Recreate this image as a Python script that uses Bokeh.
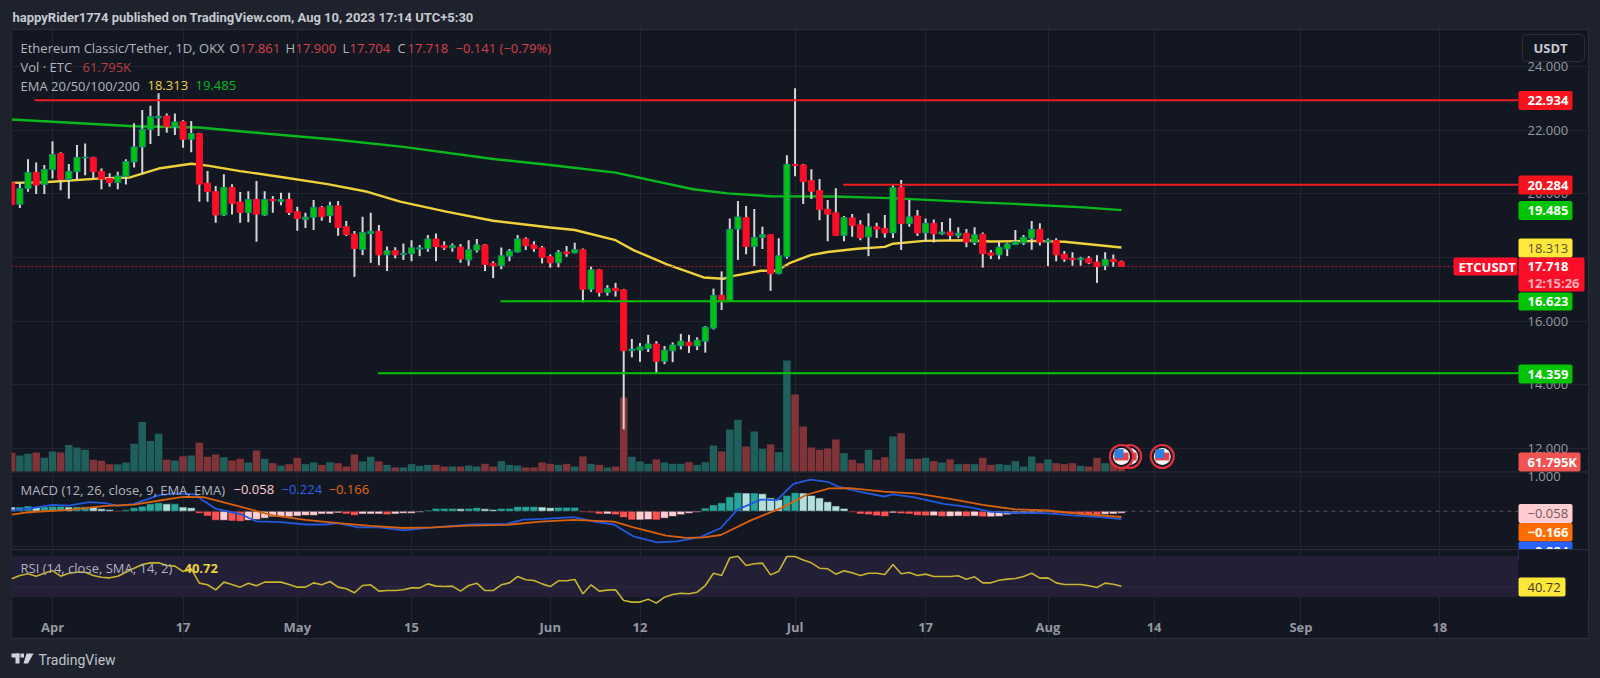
from bokeh.plotting import figure
from bokeh.embed import file_html
from bokeh.resources import INLINE
from bokeh.models import (Range1d, FixedTicker, Label, BoxAnnotation, PolyAnnotation,
                          NumeralTickFormatter)

# ---------- data ----------
days = list(range(-5, 132))
opens = [20.34,19.67,20.16,20.67,20.29,20.76,21.26,20.45,20.69,21.13,
 21.14,20.70,20.48,20.35,20.55,21.00,21.47,22.02,22.38,22.44,
 22.10,22.26,21.71,21.89,20.33,20.06,19.33,20.20,19.74,19.41,
 19.82,19.33,19.82,19.76,19.82,19.43,19.19,19.26,19.57,19.31,
 19.62,18.96,18.73,18.25,18.75,18.82,18.08,18.21,18.09,18.12,
 18.26,18.28,18.58,18.37,18.30,18.32,17.92,18.23,18.39,17.81,
 17.74,18.04,18.17,18.58,18.39,18.30,18.02,17.83,18.17,18.14,
 18.24,17.00,17.61,16.90,17.03,16.98,15.07,15.09,15.14,15.28,
 14.74,15.07,15.23,15.34,15.22,15.37,15.78,16.81,16.64,18.89,
 19.25,18.34,18.63,18.71,17.49,18.03,20.92,20.90,20.41,20.10,
 19.51,19.40,18.69,19.24,19.02,18.64,18.96,18.91,18.77,20.20,
 19.06,19.30,18.77,19.07,18.74,18.80,18.69,18.76,18.47,18.72,
 18.14,18.08,18.27,18.40,18.45,18.61,18.88,18.49,18.53,18.10,
 17.97,17.93,17.97,17.85,17.74,17.94,17.861]
closes = [19.66,20.16,20.67,20.27,20.76,21.23,20.45,20.70,21.14,21.15,
 20.69,20.46,20.35,20.56,21.01,21.47,22.02,22.42,22.43,22.10,
 22.25,21.71,21.89,20.30,20.07,19.33,20.20,19.69,19.41,19.82,
 19.36,19.82,19.78,19.82,19.41,19.22,19.26,19.57,19.28,19.62,
 18.94,18.72,18.28,18.78,18.82,18.08,18.21,18.08,18.13,18.30,
 18.30,18.58,18.34,18.30,18.37,17.95,18.24,18.39,17.78,17.74,
 18.05,18.20,18.58,18.37,18.28,18.00,17.83,18.16,18.12,18.24,
 17.00,17.61,16.90,17.03,16.95,15.07,15.12,15.19,15.28,14.74,
 15.09,15.25,15.37,15.23,15.40,15.81,16.81,16.62,18.88,19.27,
 18.34,18.63,18.71,17.49,18.05,20.92,20.89,20.38,20.08,19.50,
 19.36,18.69,19.25,19.00,18.62,18.96,18.89,18.77,20.19,19.06,
 19.27,18.77,19.07,18.74,18.80,18.69,18.76,18.48,18.71,18.12,
 18.07,18.32,18.42,18.49,18.63,18.88,18.48,18.54,18.08,17.95,
 17.93,17.98,17.83,17.71,17.94,17.87,17.718]
highs = [20.34,20.37,21.08,20.98,20.90,21.65,21.30,20.93,21.53,21.58,
 21.16,20.79,20.64,20.69,21.08,22.21,22.63,22.76,23.15,22.52,
 22.52,22.31,22.28,21.91,20.71,20.24,20.61,20.30,20.05,20.08,
 20.40,20.08,19.93,20.03,20.03,19.59,19.40,19.80,19.61,19.75,
 19.77,19.14,18.83,19.28,19.40,19.02,18.34,18.32,18.44,18.54,
 18.39,18.70,18.75,18.51,18.44,18.42,18.54,18.58,18.42,17.88,
 18.31,18.26,18.70,18.63,18.51,18.36,18.09,18.23,18.36,18.46,
 18.28,17.71,17.64,17.13,17.20,17.01,15.44,15.31,15.57,15.37,
 15.22,15.33,15.60,15.57,15.49,15.84,17.02,17.56,19.22,19.77,
 19.61,19.52,18.96,18.72,18.60,21.21,23.31,20.93,20.77,20.46,
 19.80,20.17,19.30,19.36,19.17,19.39,19.09,19.33,20.27,20.43,
 19.80,19.49,19.22,19.19,19.11,19.23,18.95,18.89,18.95,18.78,
 18.23,18.50,18.46,18.86,18.70,19.14,19.07,18.59,18.60,18.20,
 18.16,18.02,18.04,18.07,18.16,18.09,17.900]
lows = [19.66,19.55,20.06,19.99,19.99,20.48,20.11,19.84,20.43,20.58,
 20.48,20.14,20.22,20.14,20.29,20.82,20.61,21.56,21.81,21.91,
 21.84,21.44,21.30,19.75,19.75,19.09,19.30,19.35,19.09,19.10,
 18.49,19.30,19.40,19.64,19.33,18.84,18.92,18.86,19.15,19.09,
 18.68,18.67,17.39,18.07,17.83,17.75,17.57,17.97,17.92,17.88,
 18.04,18.18,17.88,18.23,18.18,17.83,17.74,18.15,17.57,17.35,
 17.63,17.88,18.15,18.23,18.18,17.81,17.68,17.69,18.02,18.13,
 16.59,16.92,16.77,16.80,16.77,12.60,14.86,14.72,15.03,14.38,
 14.65,14.71,15.11,15.00,15.09,15.01,15.74,16.35,16.63,17.92,
 18.10,17.73,18.26,16.95,17.47,17.96,20.55,19.68,19.83,19.17,
 18.51,18.67,18.51,18.65,18.54,18.04,18.61,18.62,18.61,18.23,
 18.96,18.67,18.49,18.47,18.71,18.52,18.62,18.32,18.39,17.68,
 17.95,17.94,18.04,18.39,18.39,18.24,18.37,17.73,17.88,17.86,
 17.74,17.74,17.79,17.20,17.60,17.71,17.704]
volumes = [124,106,118,126,91,133,126,177,160,144,
 78,71,49,49,60,184,330,202,251,78,
 73,102,106,191,98,113,95,73,84,60,
 140,84,55,40,49,91,49,60,44,62,
 55,33,113,67,98,67,44,27,27,49,
 38,44,44,33,33,33,40,33,51,33,
 69,44,40,27,27,60,51,44,51,33,
 100,51,44,27,33,492,98,67,51,80,
 60,51,51,62,44,62,173,133,279,344,
 166,266,151,180,129,738,512,299,160,144,
 153,213,122,78,55,144,78,95,233,255,
 84,84,91,69,60,80,49,51,49,91,
 44,49,44,69,33,100,55,80,55,49,
 55,38,33,91,55,67,61.795]
macd_hist = [.12,.12,.15,.12,.13,.14,.14,.12,.13,.13,
 .11,.07,.05,-.02,.04,.10,.14,.21,.24,.21,
 .21,.12,.10,-.06,-.14,-.26,-.26,-.28,-.29,-.26,
 -.24,-.20,-.16,-.16,-.16,-.14,-.12,-.12,-.08,-.08,
 -.05,-.08,-.12,-.08,-.08,-.08,-.10,-.08,-.06,-.06,
 -.03,.03,.08,.08,.08,.07,.08,.10,.07,.05,
 .08,.08,.13,.13,.13,.12,.10,.11,.11,.11,
 -.03,-.04,-.08,-.08,-.10,-.18,-.25,-.25,-.24,-.25,
 -.20,-.15,-.10,-.06,-.03,.09,.18,.24,.41,.53,
 .52,.52,.50,.38,.33,.45,.53,.52,.45,.38,
 .27,.15,.08,-.03,-.08,-.10,-.13,-.15,-.05,-.07,
 -.08,-.12,-.13,-.13,-.15,-.15,-.14,-.15,-.14,-.16,
 -.16,-.15,-.10,-.08,-.06,-.05,-.04,-.03,-.05,-.07,
 -.08,-.09,-.10,-.11,-.09,-.08,-.058]
rsi = [47.9,51.2,52.8,50.5,53.4,56.0,50.5,53.4,54.4,54.4,
 51.2,49.5,48.9,50.5,54.4,58.3,61.9,63.5,63.5,60.9,
 60.3,55.1,57.7,43.7,42.1,37.2,44.7,42.4,39.8,43.7,
 41.1,44.7,44.7,44.7,42.4,39.8,39.8,44.0,42.1,45.3,
 39.8,38.2,34.3,41.4,42.1,35.9,36.5,36.5,37.2,39.1,
 39.1,43.0,40.8,40.4,40.8,35.9,41.4,43.7,36.5,36.5,
 42.1,44.0,50.2,47.0,46.3,43.0,40.4,46.0,46.0,47.3,
 33.3,42.1,35.9,36.9,37.2,26.8,25.2,25.2,28.1,24.2,
 30.0,32.6,33.9,33.3,34.9,41.4,53.4,51.2,68.4,70.0,
 60.9,62.6,63.2,51.8,55.4,69.7,69.7,66.4,63.5,58.3,
 57.7,52.5,55.7,53.8,51.2,53.4,53.4,52.1,61.9,52.8,
 54.1,51.2,52.5,50.2,50.2,50.2,50.9,47.6,49.9,44.0,
 44.0,46.6,47.6,48.2,50.2,53.4,48.6,48.9,44.0,42.4,
 42.4,42.4,41.1,39.5,43.7,42.7,40.72]
for arr in (opens, closes, highs, lows, volumes, macd_hist, rsi):
    assert len(arr) == len(days), len(arr)

ema200_d = [-5,10,18,26,34.5,43,54,61,69,78.5,82.7,88,95.7,102.7,114,118,126.4,131]
ema200_v = [22.33,22.12,22.08,21.89,21.70,21.47,21.09,20.90,20.66,20.14,20.01,19.92,19.91,19.86,19.72,19.68,19.57,19.485]
ema50_d = [-5,-1,6,9.5,13,17,19,23,28.4,33.7,38.6,42.6,48.4,54,61,64,69,71.2,75.3,79.8,82.2,83.5,86.8,88.8,90.4,92.9,95,98.6,102,103,106.8,111.7,115,120.3,124,131]
ema50_v = [20.34,20.36,20.48,20.51,20.79,20.94,20.88,20.71,20.51,20.30,20.06,19.75,19.43,19.15,18.94,18.86,18.54,18.23,17.78,17.37,17.33,17.42,17.58,17.58,17.83,18.07,18.17,18.27,18.33,18.43,18.52,18.54,18.50,18.52,18.49,18.313]
macd_d = [-5,-3,0,2,4.5,6.5,8,10,13,15,17.5,18.5,20,23,25,28,31,33.5,35,37.5,40,43,46.7,51.6,55.7,57.7,60.2,63.9,66.7,68.8,71.2,74.1,76.5,79.4,81.9,83.9,86.8,88.8,90.8,92.9,95,96.2,99,101.9,103,105.5,109.2,112.5,115,118,122,125,128.4,131]
macd_v = [.02,.07,.18,.16,.26,.23,.15,.21,.45,.51,.48,.30,.07,-.08,-.29,-.31,-.38,-.38,-.34,-.46,-.46,-.55,-.46,-.38,-.36,-.24,-.22,-.17,-.31,-.38,-.72,-.89,-.86,-.74,-.48,.04,.33,.32,.78,.90,.84,.71,.55,.42,.48,.40,.21,.11,-.02,-.05,-.06,-.12,-.17,-.224]
signal_d = [-5,-3,2,6.5,10,13.5,16,18.5,23,27,31,35,39,43,46.7,50.8,55.7,59.8,63.9,68.8,71.2,75.2,77.7,79.8,81.9,85.5,89.5,92.4,95.2,97.7,101.9,106,110,114,118,122,126.2,131]
signal_v = [-.10,-.03,.04,.15,.19,.32,.41,.40,.13,-.12,-.25,-.34,-.42,-.48,-.46,-.41,-.39,-.30,-.25,-.30,-.46,-.70,-.76,-.75,-.68,-.27,.11,.47,.65,.66,.56,.50,.35,.18,.05,.02,-.08,-.166]

level_prices = [22.934, 20.284, 16.623, 14.359]
level_starts = [-2.2, 96.9, 54.9, 39.9]
level_colors = ["#ee1c22", "#ee1c22", "#00c400", "#00c400"]
last_price = 17.718
event_days = [132, 131, 136]
tick_days = [0, 16, 30, 44, 61, 72, 91, 107, 122, 135, 153, 170]
tick_names = ["Apr", "17", "May", "15", "Jun", "12", "Jul", "17", "Aug", "14", "Sep", "18"]
price_ticks = [12, 14, 16, 18, 20, 22, 24]

# ---------- layout (page pixels) ----------
W, H = 1600, 678
P_L, P_R, P_T, P_B = 11, 1518, 30, 608   # plotting pane
DAY_PX, DAY0_PX = 8.16, 52
def day_at(px): return (px - DAY0_PX) / DAY_PX
def span(px_at, val_at, px_per_unit):
    return (val_at + (px_at - H) / px_per_unit, val_at + px_at / px_per_unit)

p = figure(width=W, height=H, output_backend="svg", toolbar_location=None,
           min_border=0, x_axis_location="below", y_axis_location="right",
           background_fill_color="#1e222d", border_fill_color="#1e222d", outline_line_color=None)
p.x_range = Range1d(day_at(0), day_at(W))
p.y_range = Range1d(*span(384.3, 14, 31.85))
p.extra_y_ranges = {
    "vol": Range1d(*span(471, 0, 1 / 6.65)),
    "macd": Range1d(*span(510.7, 0, 35)),
    "rsi": Range1d(*span(596.7, 30, 1.025)),
}
FONT = "Open Sans"
GRID = "#22252f"

def lx(x): return x
def ly(y): return H - y

def box(x0, x1, y0, y1, color, level="annotation", line=None, radius=0, alpha=1.0):
    b = BoxAnnotation(left=lx(x0), right=lx(x1), top=ly(y0), bottom=ly(y1),
                      left_units="screen", right_units="screen", top_units="screen", bottom_units="screen",
                      fill_color=color, fill_alpha=alpha, level=level,
                      line_color=line, line_alpha=1 if line else 0, line_width=1, border_radius=radius)
    p.add_layout(b)
    return b

def txt(x, y, s, color="#b2b5be", size=13, style="normal", align="left", font=FONT):
    p.add_layout(Label(x=lx(x), y=ly(y), x_units="screen", y_units="screen", text=s, text_color=color,
                       text_font=font, text_font_size=f"{size}px", text_font_style=style,
                       text_baseline="middle", text_align=align))

# panel background
box(P_L, 1588, P_T - 1, 638, "#131722", level="image", line="#2a2e39")

# axes
xa = p.xaxis[0]
xa.ticker = FixedTicker(ticks=tick_days)
xa.major_label_overrides = dict(zip(tick_days, tick_names))
ya = p.yaxis[0]
ya.ticker = FixedTicker(ticks=price_ticks)
ya.formatter = NumeralTickFormatter(format="0.000")
for a in (xa, ya):
    a.axis_line_color = None
    a.major_tick_line_color = None
    a.minor_tick_line_color = None
    a.major_tick_out = 0
    a.major_tick_in = 0
    a.major_label_text_color = "#9598a1"
    a.major_label_text_font = FONT
    a.major_label_text_font_size = "13px"
xa.major_label_standoff = -61
xa.major_label_text_font_style = "bold"
ya.major_label_standoff = -73
x_start, x_end = day_at(P_L), day_at(P_R)
p.xgrid[0].ticker = FixedTicker(ticks=tick_days)
p.ygrid[0].ticker = FixedTicker(ticks=price_ticks)
p.xgrid[0].grid_line_color = GRID
p.ygrid[0].grid_line_color = GRID
p.ygrid[0].bounds = (x_start, x_end)
p.xgrid[0].bounds = (14 + (384.3 - P_B) / 31.85, 14 + (384.3 - P_T) / 31.85)

# volume
ups = [c >= o for o, c in zip(opens, closes)]
vol_colors = ["#1f5f5c" if u else "#803438" for u in ups]
p.vbar(x=days, top=volumes, bottom=0, width=0.92, fill_color=vol_colors, line_color=None, y_range_name="vol")

# RSI band and pane grid
p.quad(left=[x_start], right=[x_end], bottom=[30], top=[70], fill_color="#221f36", line_color=None, y_range_name="rsi")
p.segment(x0=[x_start], x1=[x_end], y0=[40], y1=[40], line_color="#2c2b40", line_width=1, y_range_name="rsi")
p.segment(x0=[x_start, x_start], x1=[x_end, x_end], y0=[1, -1], y1=[1, -1], line_color=GRID, line_width=1, y_range_name="macd")
p.segment(x0=[x_start], x1=[x_end], y0=[0], y1=[0], line_color="#565964", line_width=1, line_dash="4 4", y_range_name="macd")

# MACD histogram
hist_colors = []
prev = macd_hist[0] + 1
for v in macd_hist:
    if v >= 0:
        hist_colors.append("#26a69a" if v >= prev else "#b2dfdb")
    else:
        hist_colors.append("#ff5252" if v < prev else "#ffcdd2")
    prev = v
p.vbar(x=days, top=macd_hist, bottom=0, width=0.96, fill_color=hist_colors, line_color="#131722", line_width=0.6, y_range_name="macd")
p.line(macd_d, macd_v, line_color="#2258dc", line_width=1.8, y_range_name="macd")
p.line(signal_d, signal_v, line_color="#d9600c", line_width=1.8, y_range_name="macd")

# RSI line
p.line(days, rsi, line_color="#c8b430", line_width=1.6, y_range_name="rsi")

# EMAs (behind candles)
p.line(ema200_d, ema200_v, line_color="#08b81c", line_width=2.4)
p.line(ema50_d, ema50_v, line_color="#efd23a", line_width=2.4)

# last price dotted line
p.segment(x0=[x_start], x1=[x_end], y0=[last_price], y1=[last_price], line_color="#b81f2e", line_width=1, line_dash="2 2")

# candles
p.segment(x0=days, x1=days, y0=lows, y1=highs, line_color="#d6d6d6", line_width=2)
body_top = [max(o, c) for o, c in zip(opens, closes)]
body_bot = [min(o, c) for o, c in zip(opens, closes)]
p.vbar(x=days, top=body_top, bottom=body_bot, width=0.74,
       fill_color=["#00c40c" if u else "#fb0e28" for u in ups],
       line_color=["#0f8a78" if u else "#fb0e28" for u in ups], line_width=1)

# horizontal drawing levels
p.segment(x0=level_starts, x1=[x_end] * 4, y0=level_prices, y1=level_prices, line_color=level_colors, line_width=2)

# economic event markers
ev_y = [(471 - 456) * 6.65] * 3
for ed in event_days:
    p.scatter([ed], ev_y[:1], size=23, fill_color="#131722", line_color="#e0303e", line_width=2.2, y_range_name="vol")
    p.scatter([ed], ev_y[:1], size=17, fill_color="#f4f4f4", line_color=None, y_range_name="vol")
    for dy in (0, 16, -16):
        p.rect([ed], [ev_y[0] + dy], width=14, height=3, width_units="screen", height_units="screen",
               fill_color="#e8404a", line_color=None, y_range_name="vol")
    p.scatter([ed - 0.3], [ev_y[0] + 19], size=9, marker="square", fill_color="#2f7fe0", line_color=None, y_range_name="vol")

# clip strip at the left edge and pane separators
box(0, P_L, 0, H, "#1e222d")
box(P_L, 1588, 471, 472, "#2a2e39")
box(P_L, 1588, 548.5, 549.5, "#2a2e39")

# header and legends
txt(12, 17, "happyRider1774 published on TradingView.com, Aug 10, 2023 17:14 UTC+5:30", "#c6c8cf", 13, "bold", font="Roboto")
txt(20, 47.5, "Ethereum Classic/Tether, 1D, OKX")
RED = "#d8404a"
for x, s, c in [(229, "O", "#b2b5be"), (239, "17.861", RED), (285, "H", "#b2b5be"), (295, "17.900", RED),
                (342, "L", "#b2b5be"), (349, "17.704", RED), (397, "C", "#b2b5be"), (407, "17.718", RED),
                (455, "\u22120.141 (\u22120.79%)", RED)]:
    txt(x, 47.5, s, c)
txt(20, 66, "Vol \u00b7 ETC")
txt(82, 66, "61.795K", "#b83c46")
txt(20, 85, "EMA 20/50/100/200")
txt(147, 85, "18.313", "#eed23a")
txt(195, 85, "19.485", "#08b81c")
txt(20, 489, "MACD (12, 26, close, 9, EMA, EMA)")
txt(233, 489, "\u22120.058", "#ffcdd2")
txt(281, 489, "\u22120.224", "#2a62e8")
txt(328, 489, "\u22120.166", "#e8650c")
txt(20, 567.5, "RSI (14, close, SMA, 14, 2)")
txt(184, 567.5, "40.72", "#eed23a", 13, "bold")

# axis-side text not on the price scale
txt(1527, 476, "1.000", "#9598a1")

# right-hand value tags
def tag(y0, y1, color, s, tc="#ffffff", x1=1572, style="bold"):
    box(1518, x1, y0, y1, color, radius=2)
    txt(1527, (y0 + y1) / 2, s, tc, 13, style)

box(1522, 1584, 34, 61, "#131722", line="#2a2e39", radius=4)
txt(1533, 47.5, "USDT", "#c8cad1", 13, "bold")
tag(90.5, 109.5, "#f7131c", "22.934")
tag(175, 194, "#f7131c", "20.284")
tag(200.5, 219.5, "#00c400", "19.485")
tag(238, 257, "#ffe83a", "18.313", "#55502a", style="normal")
box(1453, 1517, 257, 275, "#fb0e28", radius=2)
txt(1458, 266, "ETCUSDT", "#ffffff", 13, "bold")
box(1518, 1584, 257, 291, "#fb0e28", radius=2)
txt(1527, 266, "17.718", "#ffffff", 13, "bold")
txt(1527, 282, "12:15:26", "#ffb0b8", 13, "bold")
tag(292, 310, "#00c400", "16.623")
tag(364, 383, "#00c400", "14.359")
tag(452, 471, "#f05350", "61.795K", x1=1580)
tag(503.5, 522.5, "#ffcdd2", "\u22120.058", "#7a5458", style="normal")
tag(522.5, 541, "#ff6d00", "\u22120.166")
tag(541, 560, "#2962ff", "\u22120.224")
box(1518, 1587, 549.5, 600, "#131722")
box(P_L, 1588, 548.5, 549.5, "#2a2e39")
tag(577, 596, "#ffe83a", "40.72", "#3e3a20", x1=1565, style="normal")

# brand
LOGO = "#d1d4dc"
box(11, 19, 653, 657, LOGO)
box(15, 19, 653, 663, LOGO)
box(20, 23.5, 653, 657, LOGO)
p.add_layout(PolyAnnotation(xs=[lx(v) for v in (26, 33, 27.5, 23)], ys=[ly(v) for v in (653, 653, 663, 663)],
                            xs_units="screen", ys_units="screen", fill_color=LOGO, fill_alpha=1, line_alpha=0))
txt(38, 659, "TradingView", "#c0c3cb", 14, "normal", font="Roboto")

TEMPLATE = """{% block postamble %}<style>html, body { background: #1e222d; overflow: hidden; }</style>{% endblock %}"""
open("out.html", "w").write(file_html(p, INLINE, template=TEMPLATE))
